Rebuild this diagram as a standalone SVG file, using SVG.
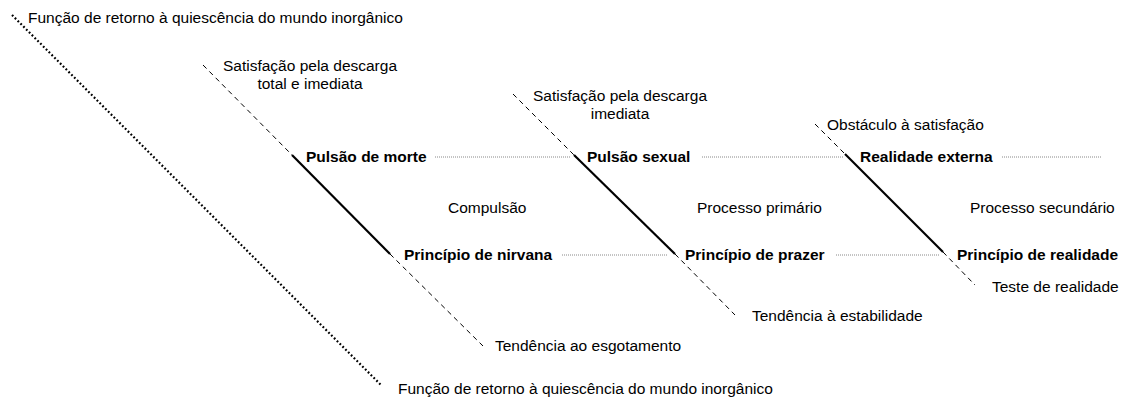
<svg xmlns="http://www.w3.org/2000/svg" width="1124" height="401" viewBox="0 0 1124 401">
<style>
text{font-family:"Liberation Sans",Arial,sans-serif;font-size:15.5px;fill:#000}
.b{font-weight:bold}
.sol{stroke:#000;stroke-width:2.2;fill:none}
.dash{stroke:#000;stroke-width:1;stroke-dasharray:5 4;fill:none}
.dot{stroke:#000;stroke-width:2.2;stroke-dasharray:1.8 2.2;fill:none}
.hd{stroke:#888;stroke-width:1;stroke-dasharray:1 1;fill:none}
</style>
<rect width="1124" height="401" fill="#fff"/>
<g id="connectors">
<line class="dot" x1="12" y1="15" x2="382" y2="386"/>
<line class="dash" x1="203" y1="65" x2="292" y2="155"/>
<line class="sol" x1="292" y1="155" x2="390" y2="254"/>
<line class="dash" x1="390" y1="254" x2="483" y2="346"/>
<line class="dash" x1="513" y1="94" x2="574" y2="155"/>
<line class="sol" x1="574" y1="155" x2="675" y2="254"/>
<line class="dash" x1="675" y1="254" x2="735" y2="315"/>
<line class="dash" x1="815" y1="124" x2="845" y2="154"/>
<line class="sol" x1="845" y1="154" x2="943" y2="252"/>
<line class="dash" x1="943" y1="252" x2="975" y2="285"/>
<line class="hd" x1="435" y1="157" x2="570" y2="157"/>
<line class="hd" x1="702" y1="157" x2="843" y2="157"/>
<line class="hd" x1="1002" y1="157" x2="1102" y2="157"/>
<line class="hd" x1="562" y1="255" x2="668" y2="255"/>
<line class="hd" x1="836" y1="255" x2="940" y2="255"/>
</g>
<g id="retorno-top"><text x="28" y="23">Função de retorno à quiescência do mundo inorgânico</text></g>
<g id="satisfacao-total"><text x="310" y="71" text-anchor="middle">Satisfação pela descarga</text><text x="310" y="89" text-anchor="middle">total e imediata</text></g>
<g id="satisfacao-imediata"><text x="620" y="101" text-anchor="middle">Satisfação pela descarga</text><text x="620" y="119" text-anchor="middle">imediata</text></g>
<g id="obstaculo"><text x="827" y="130">Obstáculo à satisfação</text></g>
<g id="pulsao-morte"><text class="b" x="306" y="162">Pulsão de morte</text></g>
<g id="pulsao-sexual"><text class="b" x="587" y="162">Pulsão sexual</text></g>
<g id="realidade-externa"><text class="b" x="860" y="162">Realidade externa</text></g>
<g id="compulsao"><text x="448" y="213">Compulsão</text></g>
<g id="processo-primario"><text x="697" y="213">Processo primário</text></g>
<g id="processo-secundario"><text x="970" y="213">Processo secundário</text></g>
<g id="principio-nirvana"><text class="b" x="404" y="260">Princípio de nirvana</text></g>
<g id="principio-prazer"><text class="b" x="685" y="260">Princípio de prazer</text></g>
<g id="principio-realidade"><text class="b" x="957" y="260">Princípio de realidade</text></g>
<g id="teste-realidade"><text x="992" y="292">Teste de realidade</text></g>
<g id="tendencia-estabilidade"><text x="752" y="321">Tendência à estabilidade</text></g>
<g id="tendencia-esgotamento"><text x="495" y="351">Tendência ao esgotamento</text></g>
<g id="retorno-bottom"><text x="398" y="394">Função de retorno à quiescência do mundo inorgânico</text></g>
</svg>
